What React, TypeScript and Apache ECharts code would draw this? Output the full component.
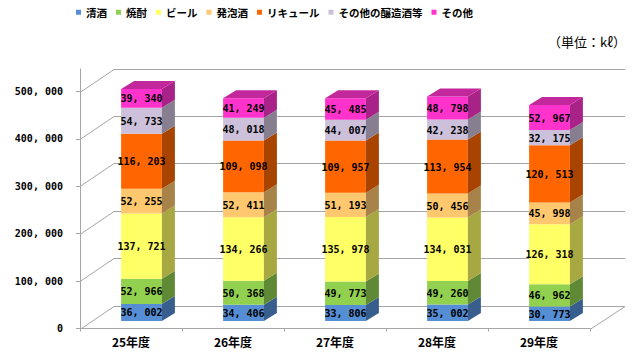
import React, { useEffect, useRef } from "react";
import * as echarts from "echarts";

const categories = ["25年度", "26年度", "27年度", "28年度", "29年度"];
const seriesNames = ["清酒", "焼酎", "ビール", "発泡酒", "リキュール", "その他の醸造酒等", "その他"];
const seishu = [36002, 34406, 33806, 35002, 30773];
const shochu = [52966, 50368, 49773, 49260, 46962];
const beer = [137721, 134266, 135978, 134031, 126318];
const happoshu = [52255, 52411, 51193, 50456, 45998];
const liqueur = [116203, 109098, 109957, 113954, 120513];
const otherBrewed = [54733, 48018, 44007, 42238, 32175];
const others = [39340, 41249, 45485, 48798, 52967];
const yTicks = [0, 100000, 200000, 300000, 400000, 500000];
const colors = ["#558ED5", "#92D050", "#FFFF66", "#FFC76E", "#FF6600", "#CCC0DA", "#FF33CC"];

const seriesValues = [seishu, shochu, beer, happoshu, liqueur, otherBrewed, others];

// 3D geometry (pixels)
const WALL_DX = 34;
const WALL_DY = 23;
const BAR_DX = 13;
const BAR_DY = 8;
const OFF_X = (WALL_DX - BAR_DX) / 2;
const OFF_Y = (WALL_DY - BAR_DY) / 2;
const GRID_COLOR = "#A6A6A6";

function fmt(n: number): string {
  return String(n).replace(/\B(?=(\d{3})+(?!\d))/g, ", ");
}

function shade(hex: string, f: number): string {
  const h = hex.replace("#", "");
  const r = Math.round(parseInt(h.slice(0, 2), 16) * f);
  const g = Math.round(parseInt(h.slice(2, 4), 16) * f);
  const b = Math.round(parseInt(h.slice(4, 6), 16) * f);
  return `rgb(${r},${g},${b})`;
}

export default function App() {
  const ref = useRef<HTMLDivElement>(null);
  useEffect(() => {
    if (!ref.current) return;
    const chart = echarts.init(ref.current, undefined, { renderer: "svg" });

    const wallSeries: any = {
      type: "custom",
      name: "_wall",
      z: 1,
      silent: true,
      coordinateSystem: "cartesian2d",
      encode: { x: 0, y: 1 },
      data: yTicks.map((v) => [0, v]),
      renderItem: (params: any, api: any) => {
        const cs = params.coordSys;
        const x0 = cs.x;
        const w = cs.width;
        const v = api.value(1);
        const y = Math.round(api.coord([0, v])[1]) + 0.5;
        const children: any[] = [
          {
            type: "polyline",
            shape: {
              points: [
                [x0, y],
                [x0 + WALL_DX, y - WALL_DY],
                [x0 + w + WALL_DX + 1, y - WALL_DY],
              ],
            },
            style: { stroke: GRID_COLOR, lineWidth: 1, fill: null },
          },
        ];
        if (v === 0) {
          const yTop = Math.round(api.coord([0, yTicks[yTicks.length - 1]])[1]) + 0.5 - WALL_DY - 1;
          children.push({
            type: "line",
            shape: { x1: x0 + 0.5, y1: y, x2: x0 + 0.5, y2: yTop },
            style: { stroke: GRID_COLOR, lineWidth: 1 },
          });
          children.push({
            type: "line",
            shape: { x1: x0 + w, y1: y, x2: x0 + w + WALL_DX + 1, y2: y - WALL_DY },
            style: { stroke: GRID_COLOR, lineWidth: 1 },
          });
        }
        return { type: "group", children };
      },
    };

    const cumulative = categories.map(() => 0);
    const barSeries = seriesNames.map((name, si) => {
      const vals = seriesValues[si];
      const data = vals.map((v, i) => {
        const base = cumulative[i];
        cumulative[i] += v;
        return [i, base, base + v, v];
      });
      const color = colors[si];
      const isTop = si === seriesNames.length - 1;
      return {
        type: "custom",
        name,
        z: 2,
        coordinateSystem: "cartesian2d",
        encode: { x: 0, y: 2 },
        itemStyle: { color },
        data,
        renderItem: (params: any, api: any) => {
          const i = api.value(0);
          const b = api.value(1);
          const t = api.value(2);
          const v = api.value(3);
          const pb = api.coord([i, b]);
          const pt = api.coord([i, t]);
          const bw = api.size([1, 0])[0] * 0.4;
          const xl = pb[0] - bw / 2 + OFF_X;
          const xr = xl + bw;
          const yb = pb[1] - OFF_Y;
          const yt = pt[1] - OFF_Y;
          const children: any[] = [
            {
              type: "rect",
              shape: { x: xl, y: yt, width: bw, height: yb - yt },
              style: { fill: color },
            },
            {
              type: "polygon",
              shape: {
                points: [
                  [xr, yt],
                  [xr + BAR_DX, yt - BAR_DY],
                  [xr + BAR_DX, yb - BAR_DY],
                  [xr, yb],
                ],
              },
              style: { fill: shade(color, 0.66) },
            },
          ];
          if (isTop) {
            children.push({
              type: "polygon",
              shape: {
                points: [
                  [xl, yt],
                  [xr, yt],
                  [xr + BAR_DX, yt - BAR_DY],
                  [xl + BAR_DX, yt - BAR_DY],
                ],
              },
              style: { fill: shade(color, 0.76) },
            });
          }
          children.push({
            type: "text",
            x: (xl + xr) / 2,
            y: (yt + yb) / 2 + 0.5,
            style: {
              text: fmt(v),
              fill: "#000",
              fontSize: 10,
              fontWeight: "bold",
              fontFamily: "DejaVu Sans Mono",
              align: "center",
              verticalAlign: "middle",
            },
          });
          return { type: "group", children };
        },
      };
    });

    chart.setOption({
      animation: false,
      backgroundColor: "#fff",
      legend: {
        data: seriesNames,
        left: 71,
        top: 2,
        icon: "rect",
        itemWidth: 5,
        itemHeight: 5,
        itemGap: 9,
        textStyle: {
          fontSize: 10.5,
          fontWeight: "bold",
          fontFamily: "Noto Sans CJK JP",
          color: "#000",
        },
      },
      graphic: [
        {
          type: "text",
          right: 16,
          top: 35,
          style: {
            text: "（単位：kℓ）",
            fontSize: 13,
            fontFamily: "Noto Sans CJK JP",
            fill: "#000",
          },
        },
      ],
      grid: { left: 80, right: 52, top: 91.5, bottom: 29.5, containLabel: false },
      xAxis: {
        type: "category",
        data: categories,
        axisLine: { show: true, lineStyle: { color: GRID_COLOR, width: 1 } },
        axisTick: { show: true, length: 3, lineStyle: { color: GRID_COLOR } },
        axisLabel: {
          margin: 7,
          fontSize: 12,
          fontWeight: "bold",
          fontFamily: "Noto Sans CJK JP",
          color: "#000",
        },
        splitLine: { show: false },
      },
      yAxis: {
        type: "value",
        min: 0,
        max: 500000,
        interval: 100000,
        axisLine: { show: false },
        axisTick: { show: true, length: 4, lineStyle: { color: GRID_COLOR } },
        axisLabel: {
          margin: 17,
          fontSize: 10,
          fontWeight: "bold",
          fontFamily: "DejaVu Sans Mono",
          color: "#000",
          formatter: (v: number) => fmt(v),
        },
        splitLine: { show: false },
      },
      series: [wallSeries, ...barSeries],
    });
    return () => chart.dispose();
  }, []);
  return (
    <div
      ref={ref}
      style={{ position: "fixed", left: 0, top: 0, width: 642, height: 358 }}
    />
  );
}
